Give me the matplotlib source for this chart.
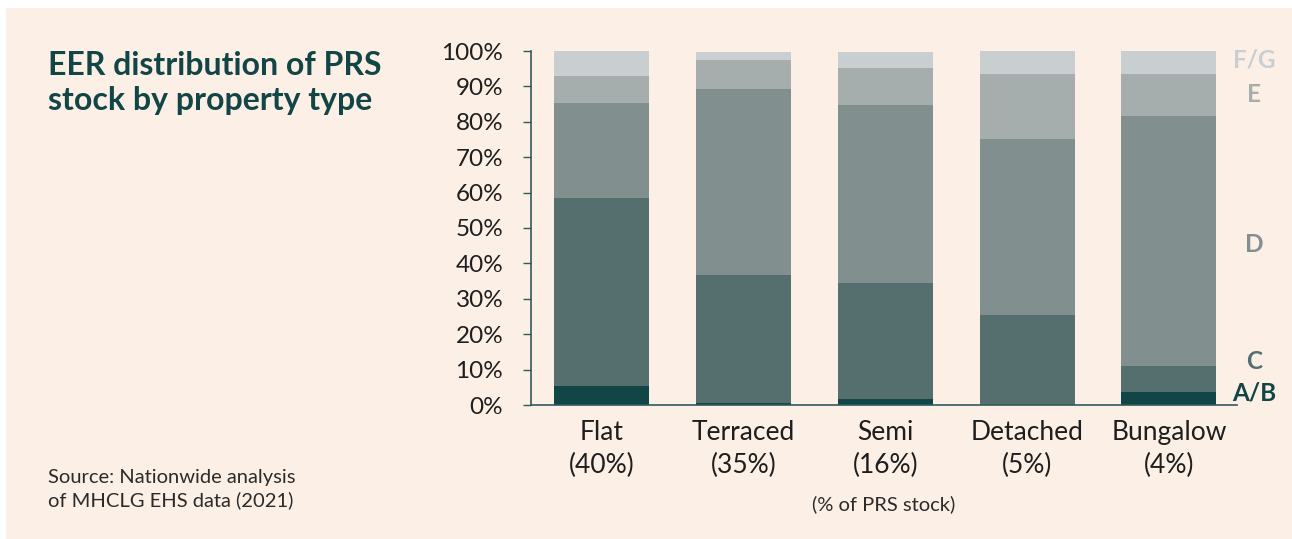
import matplotlib.pyplot as plt
import numpy as np
from matplotlib.patches import Rectangle
import matplotlib.transforms as mtransforms

# --- data (share of PRS stock in each EER band, %) ---
categories = ['Flat\n(40%)', 'Terraced\n(35%)', 'Semi\n(16%)', 'Detached\n(5%)', 'Bungalow\n(4%)']
bands = ['A/B', 'C', 'D', 'E', 'F/G']
band_ab = [5.5, 0.6, 1.7, 0.0, 3.7]
band_c = [53.0, 36.1, 32.8, 25.4, 7.2]
band_d = [26.8, 52.6, 50.2, 49.7, 70.8]
band_e = [7.6, 8.2, 10.5, 18.4, 11.8]
band_fg = [7.1, 2.2, 4.5, 6.5, 6.5]
yticks = [0, 10, 20, 30, 40, 50, 60, 70, 80, 90, 100]

# --- style ---
BG = '#fcefe6'
TEAL = '#124545'
colors = ['#124545', '#546f6e', '#818f8e', '#a5adad', '#c9cfd0']
plt.rcParams['font.family'] = ['Lato', 'DejaVu Sans']

W, H = 1292, 539
fig = plt.figure(figsize=(W / 100, H / 100), dpi=100, facecolor='white')
fig.patches.append(Rectangle((6 / W, 0), 1 - 6 / W, 1 - 8 / H, transform=fig.transFigure,
                             facecolor=BG, edgecolor='none', zorder=-10))

def px(x, y):
    return x / W, 1 - y / H

ax = fig.add_axes([531 / W, (H - 405) / H, 706 / W, 354 / H])
ax.set_facecolor(BG)

series = [band_ab, band_c, band_d, band_e, band_fg]
x = np.arange(len(categories))
bottom = np.zeros(len(categories))
for vals, col in zip(series, colors):
    ax.bar(x, vals, bottom=bottom, width=0.67, color=col, edgecolor='none')
    bottom += np.array(vals)

ax.set_xlim(-0.5, 4.48)
ax.set_ylim(0, 100)
ax.set_yticks(yticks)
ax.set_yticklabels([f'{t}%' for t in yticks], fontsize=17.5, color='#1e1e1e')
ax.set_xticks(x)
ax.set_xticklabels(categories, fontsize=19, color='#1e1e1e', linespacing=1.4)
ax.tick_params(axis='y', length=6, width=1, color='#2f5b5a', pad=14)
ax.tick_params(axis='x', length=0, pad=11)
for s in ['top', 'right']:
    ax.spines[s].set_visible(False)
for s in ['left', 'bottom']:
    ax.spines[s].set_color('#2f5b5a')
    ax.spines[s].set_linewidth(1.2)

# band labels on the right
trans = mtransforms.blended_transform_factory(ax.transAxes, ax.transData)
label_y = [3.4, 12.4, 45.2, 87.6, 97.5]
for name, col, yy in zip(bands, colors, label_y):
    ax.text(1.024, yy, name, transform=trans, ha='center', va='center',
            fontsize=17.5, fontweight='bold', color=col)

# titles and notes
fig.text(*px(48, 83), 'EER distribution of PRS\nstock by property type', ha='left', va='center',
         fontsize=23, fontweight='bold', color=TEAL, linespacing=1.22)
fig.text(*px(48, 489), 'Source: Nationwide analysis\nof MHCLG EHS data (2021)', ha='left', va='center',
         fontsize=14.5, color='#2b2b2b', linespacing=1.35)
fig.text(*px(884, 504), '(% of PRS stock)', ha='center', va='center', fontsize=14.5, color='#2b2b2b')

fig.savefig('out.png', dpi=100, facecolor=fig.get_facecolor())
